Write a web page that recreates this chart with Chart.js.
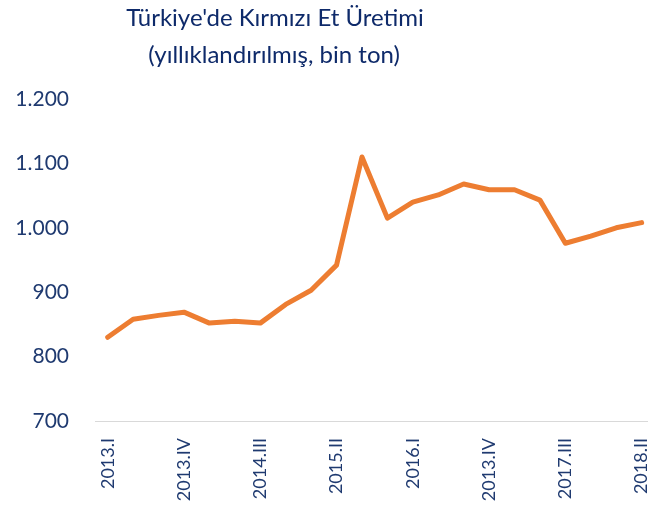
<!DOCTYPE html>
<html>
<head>
<meta charset="utf-8">
<script src="https://cdn.jsdelivr.net/npm/chart.js@4/dist/chart.umd.min.js"></script>
<style>
  html, body { margin: 0; padding: 0; background: #fff; overflow: hidden; }
</style>
</head>
<body>
<canvas id="chart" width="648" height="508"></canvas>
<script>
// quarters 2013.I .. 2018.II (the source chart labels one of them "2013.IV" by mistake, kept as-is)
const quarters = [
    '2013.I', '2013.II', '2013.III', '2013.IV',
    '2014.I', '2014.II', '2014.III', '2014.IV',
    '2015.I', '2015.II', '2015.III', '2015.IV',
    '2016.I', '2016.II', '2016.III', '2013.IV',
    '2017.I', '2017.II', '2017.III', '2017.IV',
    '2018.I', '2018.II'
];
// annualised red meat production, thousand tonnes
const production = [
    830, 858, 864, 869, 852, 855, 852, 881, 903, 942, 1110,
    1015, 1040, 1051, 1068, 1059, 1059, 1043, 976, 987, 1000, 1008
];
const titleLines = ["Türkiye'de Kırmızı Et Üretimi", '(yıllıklandırılmış, bin ton)'];
const yMin = 700;
const yMax = 1200;
const yStep = 100;

const navy = '#1F3A70';
const fontFamily = 'Lato, "Open Sans", sans-serif';

function fmtTR(v) {
    if (v >= 1000) return Math.floor(v / 1000) + '.' + String(v % 1000).padStart(3, '0');
    return String(v);
}

// the original plot is cut off at the right edge of the picture, so the
// category range ends a bit before the last half-slot
const rangeTrim = -0.25;

// title sits left of centre in the source, so draw it ourselves
const titlePlugin = {
    id: 'leftTitle',
    afterDraw(c) {
        const g = c.ctx;
        g.save();
        g.fillStyle = '#0E2A6A';
        g.font = '24px ' + fontFamily;
        g.textAlign = 'center';
        g.textBaseline = 'alphabetic';
        g.fillText(titleLines[0], 275, 26);
        g.fillText(titleLines[1], 274, 63);
        g.restore();
    }
};

const ctx = document.getElementById('chart').getContext('2d');
const chart = new Chart(ctx, {
    type: 'line',
    data: {
        labels: quarters,
        datasets: [{
            data: production,
            borderColor: '#ED7D31',
            borderWidth: 5,
            borderCapStyle: 'round',
            borderJoinStyle: 'round',
            pointRadius: 0,
            tension: 0,
            fill: false
        }]
    },
    options: {
        responsive: false,
        animation: false,
        layout: { padding: { left: 0, right: 0, top: 99, bottom: 0 } },
        plugins: {
            legend: { display: false },
            tooltip: { enabled: false },
            title: { display: false }
        },
        scales: {
            x: {
                offset: true,
                grid: { display: false, drawTicks: false },
                border: { display: true, color: '#D9D9D9', width: 1 },
                ticks: {
                    autoSkip: false,
                    maxRotation: 90,
                    minRotation: 90,
                    padding: 17,
                    color: navy,
                    font: { family: fontFamily, size: 18 },
                    callback: function (v, i) { return i % 3 === 0 ? this.getLabelForValue(v) : ''; }
                },
                afterBuildTicks: s => { s._valueRange += rangeTrim; },
                afterFit: s => { s.height = 87; s.paddingLeft = 0; s.paddingRight = 0; }
            },
            y: {
                min: yMin,
                max: yMax,
                grid: { display: false, drawTicks: false },
                border: { display: false },
                ticks: {
                    stepSize: yStep,
                    padding: 26,
                    color: navy,
                    font: { family: fontFamily, size: 21 },
                    callback: v => fmtTR(v)
                },
                afterFit: s => { s.width = 95; }
            }
        }
    },
    plugins: [titlePlugin]
});
</script>
</body>
</html>
